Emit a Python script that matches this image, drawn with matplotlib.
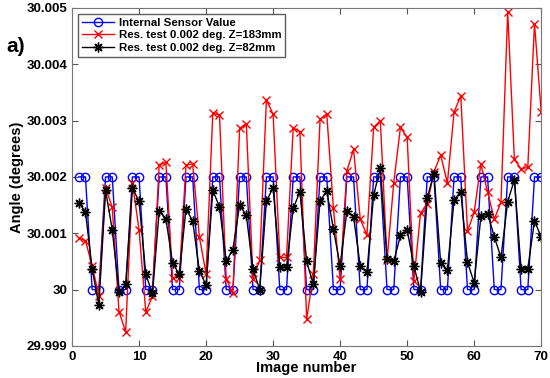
import numpy as np
import matplotlib.pyplot as plt

plt.rcParams['font.family'] = ['Liberation Sans', 'DejaVu Sans']
plt.rcParams['font.weight'] = 'bold'

image_number = np.arange(1, 71)

# internal sensor: two images at 30.002, two at 30.000
internal_sensor = [
    30.002, 30.002, 30.000, 30.000, 30.002, 30.002, 30.000, 30.000, 30.002, 30.002,
    30.000, 30.000, 30.002, 30.002, 30.000, 30.000, 30.002, 30.002, 30.000, 30.000,
    30.002, 30.002, 30.000, 30.000, 30.002, 30.002, 30.000, 30.000, 30.002, 30.002,
    30.000, 30.000, 30.002, 30.002, 30.000, 30.000, 30.002, 30.002, 30.000, 30.000,
    30.002, 30.002, 30.000, 30.000, 30.002, 30.002, 30.000, 30.000, 30.002, 30.002,
    30.000, 30.000, 30.002, 30.002, 30.000, 30.000, 30.002, 30.002, 30.000, 30.000,
    30.002, 30.002, 30.000, 30.000, 30.002, 30.002, 30.000, 30.000, 30.002, 30.002,
]

# offsets from 30 deg, in thousandths of a degree
z183_offset = [
    0.91, 0.87, 0.42, -0.11, 1.81, 1.46, -0.39, -0.75, 1.90, 1.06,
    -0.40, -0.12, 2.21, 2.26, 0.21, 0.21, 2.21, 2.23, 0.93, 0.28,
    3.13, 3.10, 0.19, -0.07, 2.86, 2.94, 0.19, 0.52, 3.37, 3.11,
    0.57, 0.57, 2.87, 2.80, -0.53, 0.27, 3.02, 3.12, 1.44, 0.18,
    2.10, 2.49, 1.25, 0.97, 2.88, 3.00, 0.52, 1.90, 2.88, 2.70,
    0.15, 1.36, 1.52, 2.09, 2.39, 1.89, 3.15, 3.44, 1.04, 1.37,
    2.23, 1.73, 1.25, 1.55, 4.93, 2.31, 2.14, 2.17, 4.72, 3.15,
]

z82_offset = [
    1.54, 1.38, 0.37, -0.28, 1.76, 1.06, -0.05, 0.09, 1.80, 1.57,
    0.27, -0.07, 1.39, 1.26, 0.47, 0.27, 1.43, 1.22, 0.33, 0.08,
    1.76, 1.47, 0.50, 0.71, 1.50, 1.32, 0.36, 0.00, 1.57, 1.81,
    0.40, 0.40, 1.44, 1.74, 0.50, 0.09, 1.57, 1.75, 1.07, 0.42,
    1.39, 1.29, 0.42, 0.31, 1.68, 2.15, 0.55, 0.50, 0.96, 1.06,
    0.42, -0.04, 1.63, 2.06, 0.47, 0.34, 1.59, 1.74, 0.49, 0.12,
    1.30, 1.35, 0.94, 0.57, 1.56, 1.95, 0.36, 0.37, 1.22, 0.93,
]

z183 = 30 + np.array(z183_offset) / 1000
z82 = 30 + np.array(z82_offset) / 1000

fig = plt.figure(figsize=(5.5, 3.78), dpi=100)
ax = fig.add_axes([0.131, 0.085, 0.853, 0.894])

ax.plot(image_number, internal_sensor, color='blue', marker='o', markerfacecolor='none',
        markersize=6, linewidth=1, label='Internal Sensor Value')
ax.plot(image_number, z183, color='red', marker='x', markersize=6, linewidth=1,
        label='Res. test 0.002 deg. Z=183mm')
# matlab style asterisk
ax.plot(image_number, z82, color='black', marker=(8, 2, 0), markersize=7, linewidth=1,
        markeredgewidth=1, label='Res. test 0.002 deg. Z=82mm')

ax.set_xlim(0, 70)
ax.set_ylim(29.999, 30.005)
ax.set_xticks(np.arange(0, 71, 10))
ax.set_yticks(np.arange(29.999, 30.0051, 0.001))
ax.set_yticklabels(['29.999', '30', '30.001', '30.002', '30.003', '30.004', '30.005'])
ax.tick_params(direction='in', top=True, right=True, labelsize=9.5, length=4, color='#555555')
for s in ax.spines.values():
    s.set_color('#777777')

ax.set_xlabel('Image number', fontsize=10.5, fontweight='bold', labelpad=-1)
ax.set_ylabel('Angle (degrees)', fontsize=10.5, fontweight='bold', labelpad=2)

leg = ax.legend(loc='upper left', fontsize=8.2, frameon=True, fancybox=False,
                edgecolor='#333333', handlelength=2.8, borderaxespad=0.55,
                labelspacing=0.2, handletextpad=0.4, borderpad=0.35)
leg.get_frame().set_linewidth(1)
for t in leg.get_texts():
    t.set_fontweight('bold')

fig.text(0.012, 0.862, 'a)', fontsize=15, fontweight='bold')

fig.savefig('out.png')
